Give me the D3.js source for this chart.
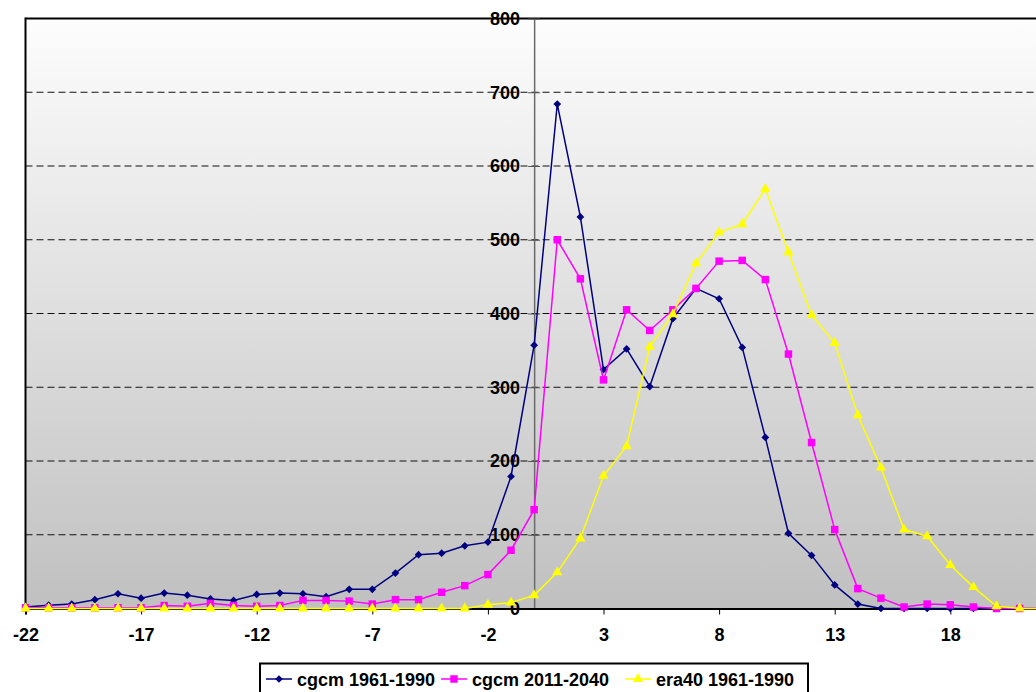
<!DOCTYPE html>
<html>
<head>
<meta charset="utf-8">
<script src="https://cdn.jsdelivr.net/npm/d3@7/dist/d3.min.js"></script>
<style>
  html, body { margin: 0; padding: 0; background: #ffffff; }
  svg { display: block; font-family: Arial, "Liberation Sans", sans-serif; }
</style>
</head>
<body>
<svg id="chart" width="1036" height="692"></svg>
<script>
// Category axis: temperature bins
const categories = [-22,-21,-20,-19,-18,-17,-16,-15,-14,-13,-12,-11,-10,-9,-8,-7,-6,-5,-4,-3,-2,-1,
  0,1,2,3,4,5,6,7,8,9,10,11,12,13,14,15,16,17,18,19,20,21,22];

// Frequency counts per bin
const cgcm1961 = [2,4.5,6,12,20,14,21,18,13,11,19,21,20,16,26,26,48,73,75,85,90,179,
  357,684,531,324,352,301,393,434,420,354,232,102,72,32,6,0,0,0,0,0,0,0,0];
const cgcm2011 = [1,1,1,1,1,1,4,3,7,4,3,4,11,11,10,6,12,12,22,31,46,79,
  134,500,447,310,405,377,405,434,471,472,446,345,225,107,27,14,2,6,5,2,0,0,0];
const era40 = [0,0,0,0,0,0,0,0,0,0,0,0,0,0,0,0,0,0,0,0,5,8,
  18,49,95,180,220,355,399,468,510,521,569,483,398,360,262,191,107,98,59,29,3,0,0];

const seriesNames = ["cgcm 1961-1990", "cgcm 2011-2040", "era40 1961-1990"];
const xTickLabels = [-22,-17,-12,-7,-2,3,8,13,18];
const yTicks = [0,100,200,300,400,500,600,700,800];

const series = [
  { name: seriesNames[0], values: cgcm1961, color: "#000080", symbol: d3.symbolSquare, size: 30, rotate: 45 },
  { name: seriesNames[1], values: cgcm2011, color: "#ff00ff", symbol: d3.symbolSquare, size: 56, rotate: 0 },
  { name: seriesNames[2], values: era40,    color: "#ffff00", symbol: d3.symbolTriangle, size: 46, rotate: 0 }
];

const svg = d3.select("#chart");
const plotLeft = 25.5, plotTop = 18.5, plotBottom = 608.5;
const plotRight = plotLeft + 23.12 * (categories.length - 1);

const x = d3.scalePoint().domain(categories).range([plotLeft, plotRight]);
const y = d3.scaleLinear().domain([0, 800]).range([plotBottom, plotTop]);

// Plot area background gradient
const defs = svg.append("defs");
const grad = defs.append("linearGradient").attr("id", "bg")
  .attr("x1", 0).attr("y1", 0).attr("x2", 0).attr("y2", 1);
grad.append("stop").attr("offset", "0%").attr("stop-color", "#fdfdfd");
grad.append("stop").attr("offset", "100%").attr("stop-color", "#c0c0c0");

svg.append("rect")
  .attr("x", plotLeft).attr("y", plotTop)
  .attr("width", plotRight - plotLeft).attr("height", plotBottom - plotTop)
  .attr("fill", "url(#bg)");

// Dashed horizontal gridlines
svg.append("g")
  .selectAll("line")
  .data(yTicks.filter(d => d > 0 && d < 800))
  .join("line")
  .attr("x1", plotLeft).attr("x2", plotRight)
  .attr("y1", d => y(d)).attr("y2", d => y(d))
  .attr("stroke", "#111")
  .attr("stroke-width", 1)
  .attr("stroke-dasharray", "7,4");

// Plot frame (left and top)
svg.append("line").attr("x1", plotLeft).attr("x2", plotLeft).attr("y1", plotTop - 1).attr("y2", plotBottom)
  .attr("stroke", "#000").attr("stroke-width", 2);
svg.append("line").attr("x1", plotLeft).attr("x2", plotRight).attr("y1", plotTop).attr("y2", plotTop)
  .attr("stroke", "#000").attr("stroke-width", 2);

// Vertical value axis crossing at category 0
const x0 = x(0);
const yAxis = d3.axisLeft(y).tickValues(yTicks).tickSize(0).tickPadding(14);
const yAxisG = svg.append("g").attr("transform", `translate(${x0},0)`).call(yAxis);
yAxisG.select(".domain").attr("stroke", "#6a6a6a").attr("stroke-width", 1.5);
yAxisG.selectAll("text")
  .attr("fill", "#000").attr("font-size", 18).attr("font-weight", "bold")
  .attr("font-family", "Arial, 'Liberation Sans', sans-serif");
yAxisG.selectAll(".tick").append("line")
  .attr("x1", -6).attr("x2", 6).attr("stroke", "#555").attr("stroke-width", 1);

// Horizontal category axis
const xAxis = d3.axisBottom(x).tickValues(xTickLabels).tickSize(6).tickPadding(14);
const xAxisG = svg.append("g").attr("transform", `translate(0,${plotBottom})`).call(xAxis);
xAxisG.select(".domain").attr("stroke", "#000").attr("stroke-width", 2);
xAxisG.selectAll(".tick line").attr("stroke", "#000").attr("stroke-width", 1);
xAxisG.selectAll("text")
  .attr("fill", "#000").attr("font-size", 18).attr("font-weight", "bold")
  .attr("font-family", "Arial, 'Liberation Sans', sans-serif");

// Series lines and markers
const line = d3.line().x((d, i) => x(categories[i])).y(d => y(d));
series.forEach(s => {
  const g = svg.append("g");
  g.append("path")
    .datum(s.values)
    .attr("d", line)
    .attr("fill", "none")
    .attr("stroke", s.color)
    .attr("stroke-width", 1.5);
  g.selectAll("path.m")
    .data(s.values)
    .join("path")
    .attr("class", "m")
    .attr("d", d3.symbol().type(s.symbol).size(s.size))
    .attr("transform", (d, i) => `translate(${x(categories[i])},${y(d)}) rotate(${s.rotate})`)
    .attr("fill", s.color);
});

// Legend
const legend = svg.append("g");
legend.append("rect")
  .attr("x", 260).attr("y", 663.5).attr("width", 548).attr("height", 40)
  .attr("fill", "#fff").attr("stroke", "#000").attr("stroke-width", 2);
const legendPos = [266, 441, 625];
series.forEach((s, i) => {
  const lx = legendPos[i];
  const g = legend.append("g");
  g.append("line").attr("x1", lx).attr("x2", lx + 26).attr("y1", 679).attr("y2", 679)
    .attr("stroke", s.color).attr("stroke-width", 1.5);
  g.append("path").attr("d", d3.symbol().type(s.symbol).size(s.size))
    .attr("transform", `translate(${lx + 13},679) rotate(${s.rotate})`).attr("fill", s.color);
  g.append("text").attr("x", lx + 31).attr("y", 686)
    .attr("font-size", 18).attr("font-weight", "bold").attr("fill", "#000")
    .text(s.name);
});
</script>
</body>
</html>
